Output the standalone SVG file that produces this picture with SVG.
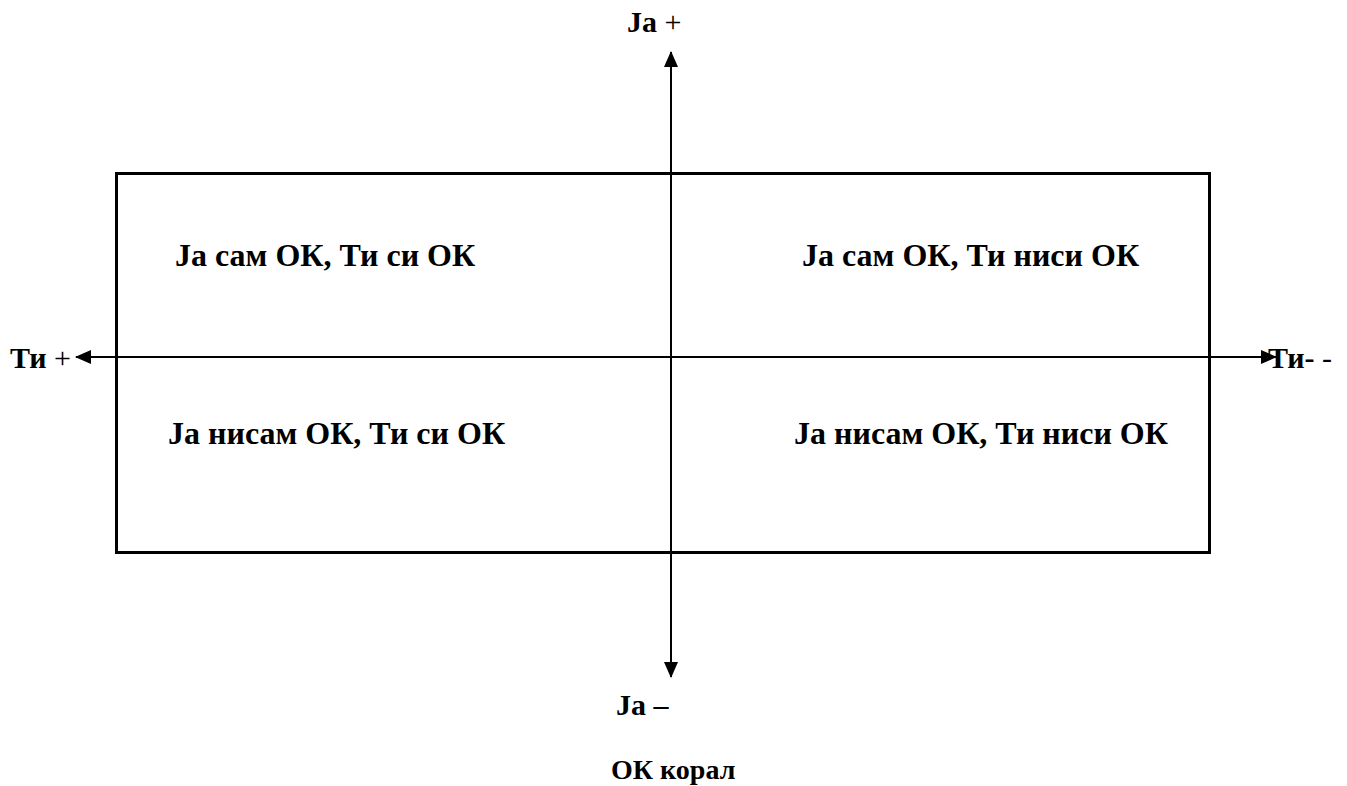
<svg xmlns="http://www.w3.org/2000/svg" width="1347" height="786" viewBox="0 0 1347 786">
<style>
text{font-family:"Liberation Serif","Times New Roman",serif;font-size:30px;fill:#000}
.b{font-weight:bold}
.q{font-size:32px}
.ax{stroke:#000;stroke-width:2;fill:none}
</style>
<defs>
<marker id="ah" viewBox="0 0 16 14" refX="15" refY="7" markerWidth="16" markerHeight="14" markerUnits="userSpaceOnUse" orient="auto">
<path d="M0,0 L16,7 L0,14 Z" fill="#000"/>
</marker>
</defs>
<rect width="1347" height="786" fill="#fff"/>
<g id="box"><rect x="116.5" y="173.5" width="1093" height="379" fill="none" stroke="#000" stroke-width="3"/></g>
<g id="connectors">
<line class="ax" x1="671" y1="676" x2="671" y2="52" marker-end="url(#ah)"/>
<line class="ax" x1="671" y1="52" x2="671" y2="677" marker-end="url(#ah)"/>
<line class="ax" x1="672" y1="357" x2="76" y2="357" marker-end="url(#ah)"/>
<line class="ax" x1="672" y1="357" x2="1276" y2="357" marker-end="url(#ah)"/>
</g>
<g id="q1"><text x="175" y="266" class="b q">Ја сам ОК, Ти си ОК</text></g>
<g id="q2"><text x="802" y="266" class="b q">Ја сам ОК, Ти ниси ОК</text></g>
<g id="q3"><text x="168" y="444" class="b q">Ја нисам ОК, Ти си ОК</text></g>
<g id="q4"><text x="794" y="444" class="b q">Ја нисам ОК, Ти ниси ОК</text></g>
<g id="top"><text x="627" y="32"><tspan class="b">Ја</tspan> +</text></g>
<g id="bottom"><text x="616" y="715" class="b">Ја –</text></g>
<g id="left"><text x="10" y="368"><tspan class="b">Ти</tspan> +</text></g>
<g id="right"><text x="1268" y="368"><tspan class="b">Ти-</tspan> -</text></g>
<g id="caption"><text x="611" y="779" class="b" style="font-size:28px">ОК корал</text></g>
</svg>
